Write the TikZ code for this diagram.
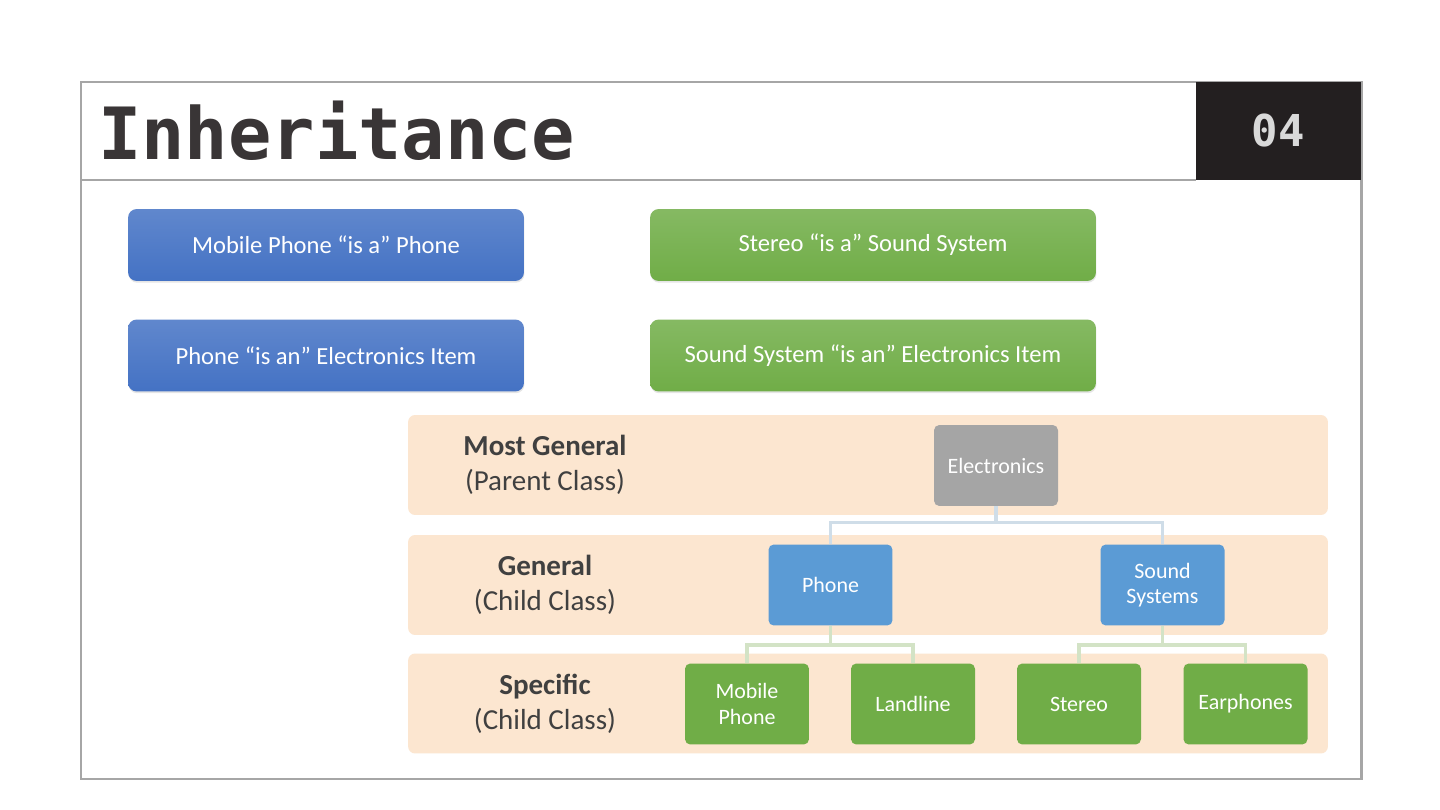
\documentclass[tikz,border=0pt]{standalone}
\usepackage{fontspec}
\setmainfont{Carlito}
\newfontfamily\titlefont{DejaVu Sans Mono}
\usetikzlibrary{positioning}
\usetikzlibrary{shadows}

\definecolor{frameGray}{HTML}{A6A6A6}
\definecolor{titleBlack}{HTML}{231F20}
\definecolor{isaBlue}{HTML}{4472C4}
\definecolor{isaGreen}{HTML}{70AD47}
\definecolor{bandPeach}{HTML}{FCE6D0}
\definecolor{parentGray}{HTML}{A5A5A5}
\definecolor{childBlue}{HTML}{5B9BD5}
\definecolor{linkBlue}{HTML}{CFDDE8}
\definecolor{linkGreen}{HTML}{D3E3C6}
\definecolor{levelText}{HTML}{404040}

\tikzset{
  isabox/.style = {rounded corners=5pt, minimum height=1.44cm, text=white,
                   font=\fontsize{14}{16}\selectfont,
                   drop shadow={opacity=0.2, shadow xshift=0.3pt, shadow yshift=-1pt}},
  bluebox/.style = {isabox, minimum width=7.92cm, top color=isaBlue!85!white, bottom color=isaBlue},
  greenbox/.style = {isabox, minimum width=8.92cm, top color=isaGreen!85!white, bottom color=isaGreen},
  band/.style = {fill=bandPeach, rounded corners=4pt, minimum width=18.4cm, minimum height=2cm},
  classbox/.style = {rounded corners=3pt, minimum width=2.48cm, minimum height=1.62cm,
                     text=white, align=center, font=\fontsize{12.5}{14.5}\selectfont},
  level/.style = {align=center, text=levelText, font=\fontsize{16.5}{20}\selectfont},
  link/.style = {line width=2pt}
}

\begin{document}
\begin{tikzpicture}[x=0.02cm, y=-0.02cm]
  \useasboundingbox (0,0) rectangle (1440,810);
  \fill[white] (0,0) rectangle (1440,810);

  % slide frame and title bar
  \draw[frameGray, line width=1.7pt] (81,82) rectangle (1361,779);
  \draw[frameGray, line width=1.7pt] (81,180) -- (1196,180);
  \fill[titleBlack] (1196,82) rectangle (1361,180);
  \node[anchor=west, text=titleBlack!90, font=\titlefont\bfseries\fontsize{41}{44}\selectfont] (title) at (92,131) {Inheritance};
  \node[text=white!85!black, font=\titlefont\bfseries\fontsize{25}{28}\selectfont] (num) at (1278,131) {04};

  % "is a" statements
  \node[bluebox] (isa1) at (326,245) {Mobile Phone ``is a'' Phone};
  \node[bluebox] (isa2) at (326,355.5) {Phone ``is an'' Electronics Item};
  \node[greenbox] (isa3) at (873,245) {Stereo ``is a'' Sound System};
  \node[greenbox] (isa4) at (873,355.5) {Sound System ``is an'' Electronics Item};

  % levels
  \node[band] (band1) at (868,465) {};
  \node[band] (band2) at (868,585) {};
  \node[band] (band3) at (868,703.5) {};
  \node[level] (lv1) at (545,465) {\textbf{Most General}\\(Parent Class)};
  \node[level] (lv2) at (545,585) {\textbf{General}\\(Child Class)};
  \node[level] (lv3) at (545,703.5) {\textbf{Specific}\\(Child Class)};

  % class hierarchy
  \node[classbox, fill=parentGray] (elec) at (996,465.5) {Electronics};
  \node[classbox, fill=childBlue] (phone) at (830.5,585) {Phone};
  \node[classbox, fill=childBlue] (sound) at (1162.5,585) {Sound\\Systems};
  \node[classbox, fill=isaGreen] (mobile) at (747,704) {Mobile\\Phone};
  \node[classbox, fill=isaGreen] (landline) at (913,704) {Landline};
  \node[classbox, fill=isaGreen] (stereo) at (1079,704) {Stereo};
  \node[classbox, fill=isaGreen] (ear) at (1245.5,704) {Earphones};

  \draw[link, linkBlue] (elec.south) -- ++(0,16) -| (phone.north);
  \draw[link, linkBlue] (elec.south) -- ++(0,16) -| (sound.north);
  \draw[link, linkGreen] (phone.south) -- ++(0,19) -| (mobile.north);
  \draw[link, linkGreen] (phone.south) -- ++(0,19) -| (landline.north);
  \draw[link, linkGreen] (sound.south) -- ++(0,19) -| (stereo.north);
  \draw[link, linkGreen] (sound.south) -- ++(0,19) -| (ear.north);
\end{tikzpicture}
\end{document}
